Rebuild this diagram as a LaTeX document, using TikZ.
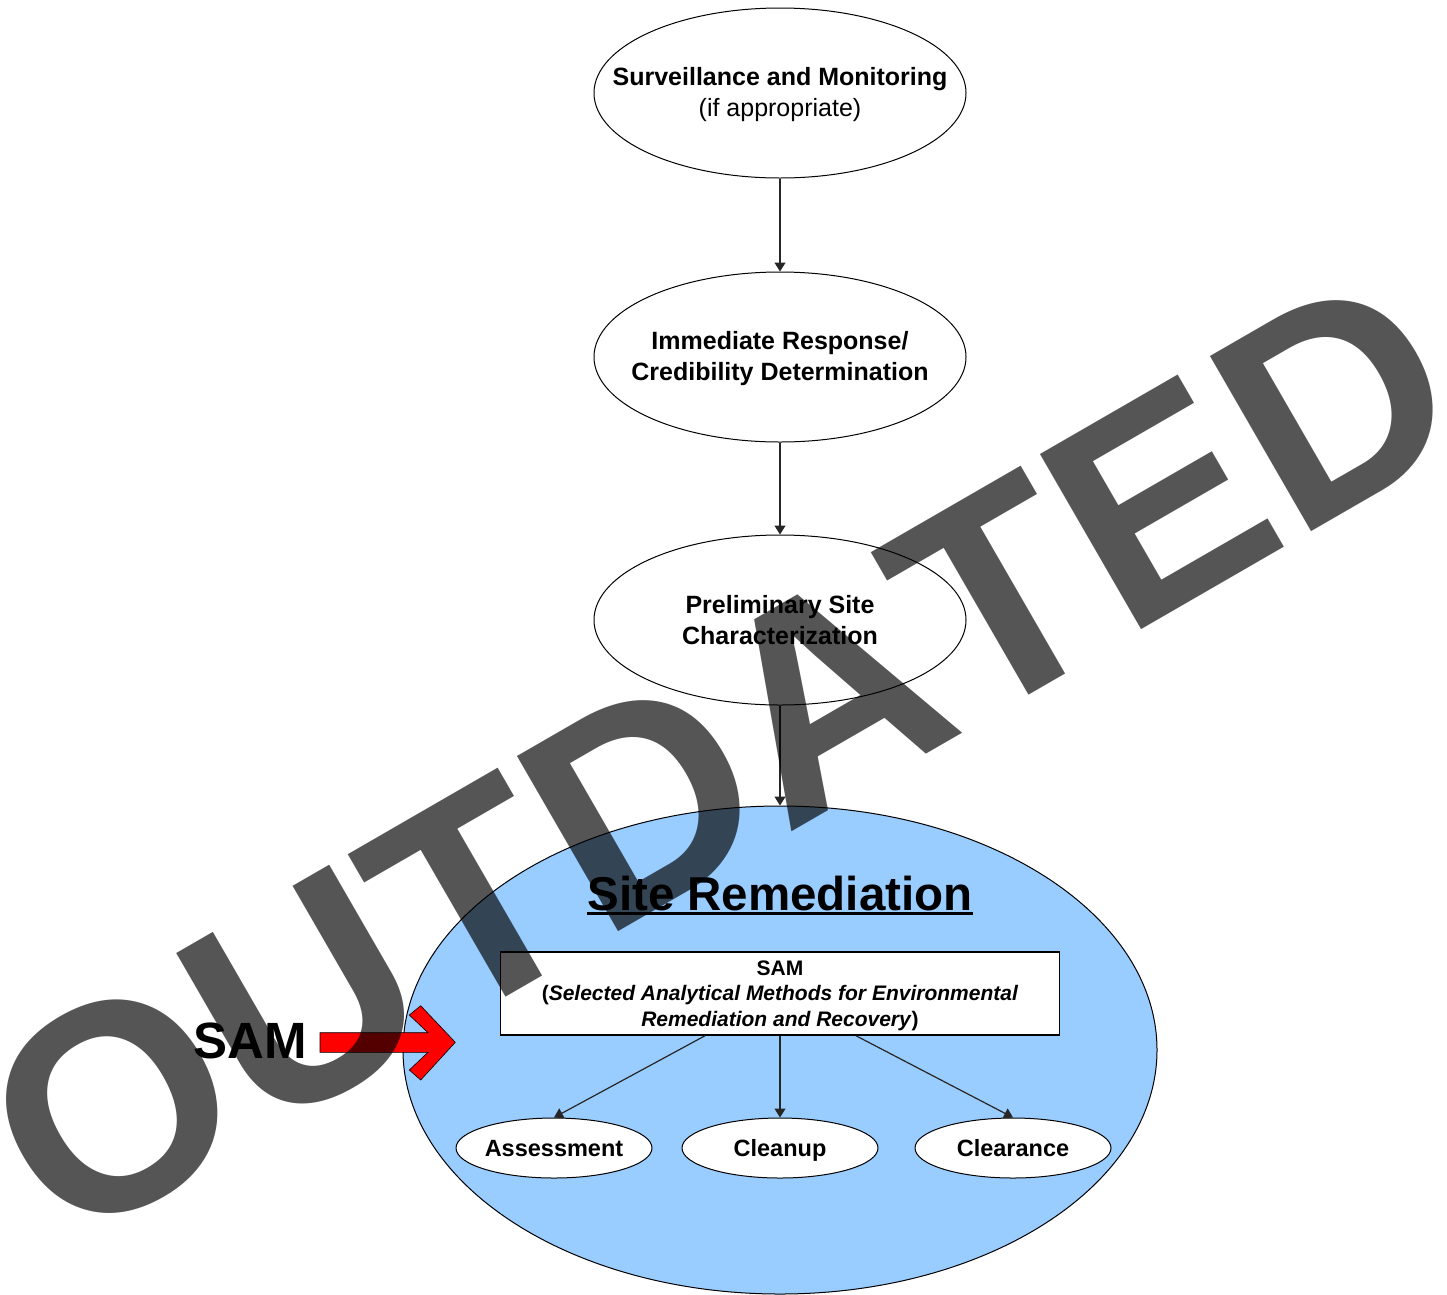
\documentclass[tikz,border=0pt]{standalone}
\usepackage{fontspec}
\setmainfont{Liberation Sans}
\newfontfamily\wmfont[Kerning=Off]{Liberation Sans}
\usetikzlibrary{shapes.geometric,arrows.meta}
\definecolor{skyfill}{HTML}{99CCFF}
\newcommand\myuline[1]{\setbox0\hbox{#1}\rlap{\rule[-5pt]{\wd0}{2.8pt}}\box0}
\begin{document}
\begin{tikzpicture}[x=1pt,y=-1pt,
  bubble/.style={ellipse, draw=black, line width=1pt, fill=white, minimum width=372pt, minimum height=170pt, inner sep=0pt},
  smallbub/.style={ellipse, draw=black, line width=1pt, fill=white, minimum width=196pt, minimum height=60pt, inner sep=0pt},
  txt/.style={inner sep=0pt, align=center, font=\fontsize{25}{31}\selectfont},
  smalltxt/.style={inner sep=0pt, anchor=base, font=\fontsize{23.5}{28}\selectfont\bfseries},
  conn/.style={line width=1.2pt, draw=black!85, -{Triangle[width=11pt,length=9pt]}}]
\useasboundingbox (0,0) rectangle (1447,1294);
\fill[white] (0,0) rectangle (1447,1294);
% top bubbles
\node[bubble] (e1) at (780,93) {};
\node[txt] (t1) at ([yshift=-2pt]e1.center) {\textbf{Surveillance and Monitoring}\\(if appropriate)};
\node[bubble] (e2) at (780,357) {};
\node[txt] (t2) at ([yshift=-2pt]e2.center) {\textbf{Immediate Response/}\\\textbf{Credibility Determination}};
\node[bubble] (e3) at (780,620) {};
\node[txt] (t3) at (e3.center) {\textbf{Preliminary Site}\\\textbf{Characterization}};
% big ellipse
\node[ellipse, draw=black, line width=1pt, fill=skyfill, minimum width=754pt, minimum height=488pt, inner sep=0pt] (big) at (780,1050) {};
\draw[conn] (e1.south) -- (e2.north);
\draw[conn] (e2.south) -- (e3.north);
\draw[conn] (e3.south) -- (big.north);
\node[anchor=base, inner sep=0pt, font=\bfseries\fontsize{47.5}{50}\selectfont] (sr) at (780,910) {\myuline{Site Remediation}};
\node[draw=black, line width=1.5pt, fill=white, minimum width=559pt, minimum height=83pt, inner sep=0pt, align=center, font=\fontsize{21}{25.5}\selectfont] (sam) at (780,993.5) {};
\node[inner sep=0pt, align=center, font=\fontsize{21}{25.5}\selectfont] (samt) at ([yshift=-2pt]sam.center)
  {\textbf{SAM}\\\textbf{(\textit{Selected Analytical Methods for Environmental}}\\\textbf{\textit{Remediation and Recovery})}};
\node[smallbub] (ass) at (554,1148) {};
\node[smalltxt] (asst) at (554,1156.5) {Assessment};
\node[smallbub] (cln) at (780,1148) {};
\node[smalltxt] (clnt) at (780,1156.5) {Cleanup};
\node[smallbub] (clr) at (1013,1148) {};
\node[smalltxt] (clrt) at (1013,1156.5) {Clearance};
\draw[conn] ([xshift=-75pt]sam.south) -- (ass.north);
\draw[conn] (sam.south) -- (cln.north);
\draw[conn] ([xshift=76pt]sam.south) -- (clr.north);
% red arrow
\draw[fill=red, draw=black, line width=0.6pt] (320,1032.7) -- (428,1032.7) -- (409.3,1015) -- (420.7,1005.7) -- (455.3,1042.3) -- (420.7,1080) -- (409.3,1070) -- (428,1052.3) -- (320,1052.3) -- cycle;
\node[anchor=base, inner sep=0pt, font=\bfseries\fontsize{51}{51}\selectfont] (samlbl) at (250.5,1058) {SAM};
% watermark
\node[anchor=base west, rotate=30, inner sep=0pt, text=black, text opacity=0.667, font=\wmfont\bfseries\fontsize{294}{294}\selectfont] (wm) at (64,1252) {OUTDATED};
\end{tikzpicture}
\end{document}
